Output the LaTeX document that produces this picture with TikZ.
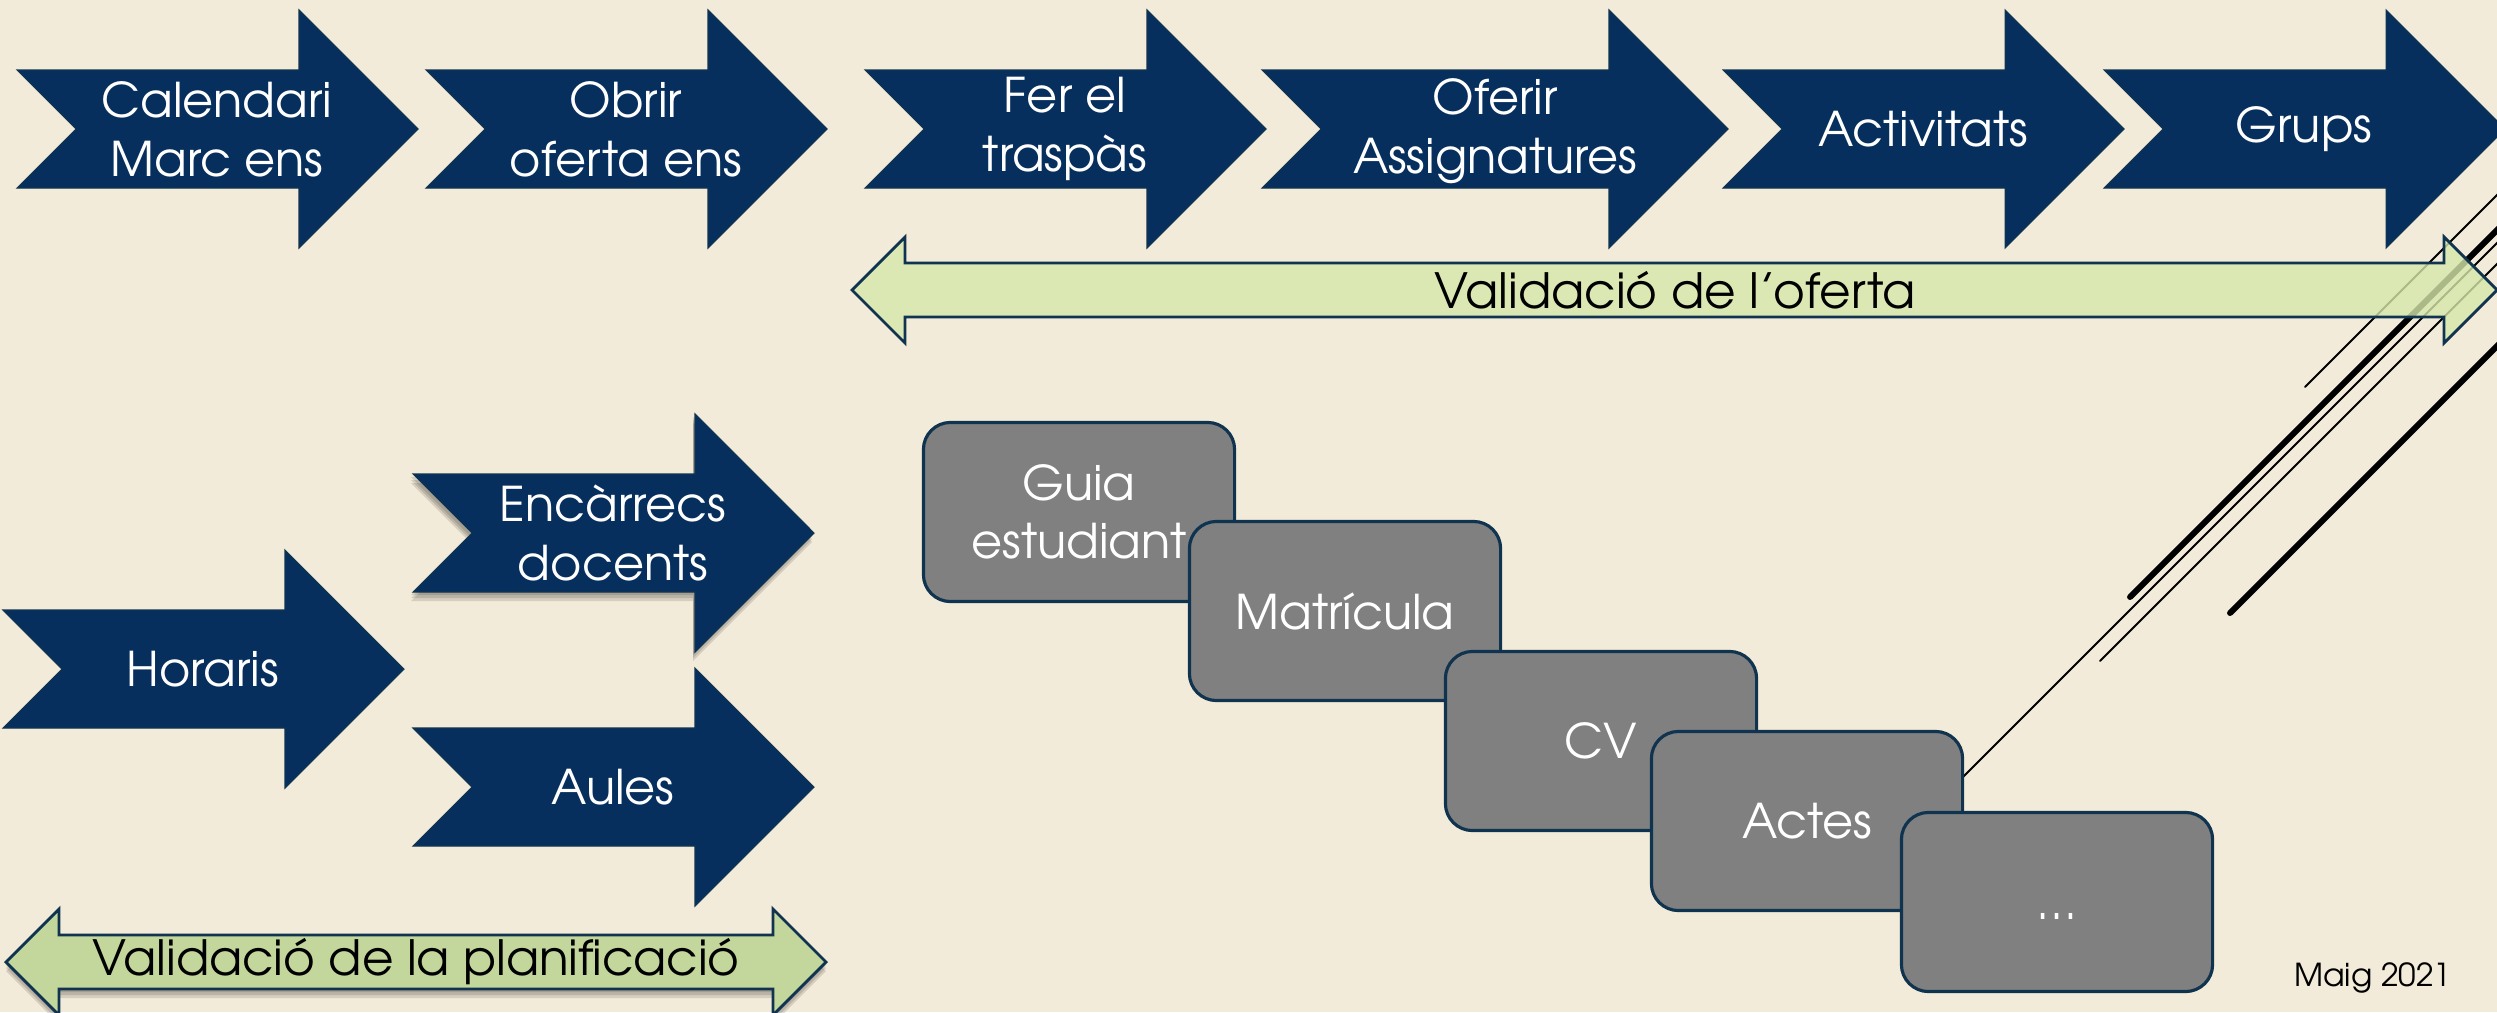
\documentclass[tikz,border=0pt]{standalone}
\usepackage{fontspec}
\setmainfont{texgyreadventor-regular.otf}
\usetikzlibrary{positioning}
\definecolor{paper}{RGB}{243,235,217}
\definecolor{navy}{RGB}{7,47,94}
\definecolor{navyline}{RGB}{16,52,80}
\definecolor{lightgreen}{RGB}{214,232,170}
\definecolor{olivegreen}{RGB}{195,214,155}
\definecolor{boxgray}{RGB}{128,128,128}

% notched arrow: left x, centre y, length
\newcommand{\stagepath}[3]{(#1,#2-59) -- ++(#3-119,0) -- ++(0,-60) -- ++(119,119) -- ++(-119,119) -- ++(0,-60) -- ++(-#3+119,0) -- ++(59,-59) -- cycle}
% double arrow: left tip x, right tip x, centre y
\newcommand{\checkpath}[3]{(#1,#3) -- ++(53,-53) -- ++(0,26) -- (#2-53,#3-27) -- ++(0,-26) -- (#2,#3) -- ++(-53,53) -- ++(0,-26) -- (#1+53,#3+27) -- ++(0,26) -- cycle}

\begin{document}
\begin{tikzpicture}[x=0.01cm, y=-0.01cm,
  stage/.style={fill=navy, draw=navyline, line width=0.3pt},
  stagetext/.style={text=white, align=center, font=\fontsize{13.6}{16.8}\selectfont},
  check/.style={draw=navyline, line width=0.8pt},
  checktext/.style={text=black, font=\fontsize{13.8}{16}\selectfont},
  haze/.style={fill=black, opacity=0.12},
  task/.style={rectangle, rounded corners=0.27cm, fill=boxgray, draw=navyline, line width=0.9pt, minimum width=3.11cm, minimum height=1.79cm, text=white, align=center, font=\fontsize{13.6}{16.5}\selectfont},
  deco/.style={line width=0.55pt, line cap=round},
  decothick/.style={line width=1.7pt, line cap=round}]
\path[fill=paper, use as bounding box] (0,0) rectangle (2497,1012);
\clip (0,0) rectangle (2497,1012);

% top row
\draw[stage] \stagepath{17}{129}{401};
\node[stagetext] (cal) at (217,129) {Calendari\\Marc ens};
\draw[stage] \stagepath{426}{129}{401};
\node[stagetext] (obrir) at (626,129) {Obrir\\oferta ens};
\draw[stage] \stagepath{865}{129}{401};
\node[stagetext] (traspas) at (1065,129) {Fer el\\traspàs};
\draw[stage] \stagepath{1262}{129}{466};
\node[stagetext] (oferir) at (1495,131) {Oferir\\Assignatures};
\draw[stage] \stagepath{1723}{129}{401};
\node[stagetext] (activ) at (1923,129) {Activitats};
\draw[stage] \stagepath{2104}{129}{401};
\node[stagetext] (grups) at (2304,129) {Grups};

% lines on the right
\draw[deco] (2305,387) -- (2560,132);
\draw[decothick] (2130,597) -- (2560,167);
\draw[deco] (1960,780) -- (2560,180);
\draw[deco] (2100,661) -- (2560,201);
\draw[decothick] (2230,613) -- (2560,283);

\draw[check, fill=lightgreen, fill opacity=0.8] \checkpath{852}{2497}{290};
\node[checktext] (valoferta) at (1675,290) {Validació de l'oferta};

% second group
\draw[stage] \stagepath{3}{669}{401};
\node[stagetext] (horaris) at (203,669) {Horaris};
\foreach \s in {3,6,9}
  \fill[haze, xshift=-0.02cm, yshift=-\s*0.01cm] \stagepath{413}{533}{401};
\draw[stage] \stagepath{413}{533}{401};
\node[stagetext] (encarrecs) at (613,533) {Encàrrecs\\docents};
\draw[stage] \stagepath{413}{787}{401};
\node[stagetext] (aules) at (613,787) {Aules};

\foreach \s in {3,6,9}
  \fill[haze, yshift=-\s*0.01cm] \checkpath{6}{826}{962};
\draw[check, fill=olivegreen] \checkpath{6}{826}{962};
\node[checktext] (valplan) at (416,962) {Validació de la planificació};

% boxes
\node[task] (guia) at (1079,512) {Guia\\estudiant};
\node[task] (matricula) at (1345,611) {Matrícula};
\node[task] (cv) at (1601,741) {CV};
\node[task] (actes) at (1807,821) {Actes};
\node[task] (etc) at (2057,902) {\vphantom{A}…};

\node[anchor=base east, inner sep=0pt, font=\fontsize{9}{11}\selectfont] (data) at (2452,986) {Maig 2021};
\end{tikzpicture}
\end{document}
